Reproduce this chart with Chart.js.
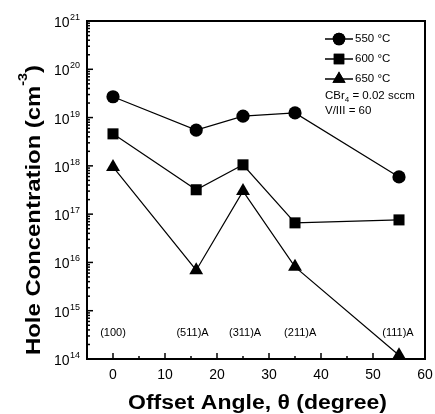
<!DOCTYPE html>
<html>
<head>
<meta charset="utf-8">
<script src="https://cdn.jsdelivr.net/npm/chart.js@4.4.1/dist/chart.umd.min.js"></script>
<style>
html,body{margin:0;padding:0;background:#fff;}
#wrap{width:435px;height:414px;}
</style>
</head>
<body>
<div id="wrap"><canvas id="c" width="435" height="414"></canvas></div>
<script>
const angles = [0, 16, 25, 35, 55];
const s550 = [2.7e19, 5.5e18, 1.07e19, 1.25e19, 5.9e17];
const s600 = [4.6e18, 3.2e17, 1.05e18, 6.6e16, 7.6e16];
const s650 = [9.5e17, 6.9e15, 3.0e17, 8.1e15, 1.2e14];
const seriesNames = ['550 °C', '600 °C', '650 °C'];
const planeLabels = ['(100)', '(511)A', '(311)A', '(211)A', '(111)A'];
const planeAngles = [0, 15.3, 25.4, 36, 54.8];
const xTicks = [0, 10, 20, 30, 40, 50, 60];
const yExponents = [14, 15, 16, 17, 18, 19, 20, 21];
const notes = ['CBr', ' = 0.02 sccm', 'V/III = 60'];
const xTitle = 'Offset Angle, \u03b8 (degree)';
const yTitle = ['Hole Concentration (cm', '-3', ')'];

const FONT = '"Liberation Sans", Arial, Helvetica, sans-serif';
const pts = arr => angles.map((a, i) => ({x: a, y: arr[i]}));

function mkDs(label, data, style, r) {
  return {label, data: pts(data), borderColor: '#000', backgroundColor: '#000',
    borderWidth: 1.2, pointStyle: style, pointRadius: r, pointHoverRadius: r,
    pointBorderWidth: 0, showLine: true, tension: 0, fill: false};
}

const styles = [['circle', 6.6], ['rect', 7.8], ['triangle', 8]];

const deco = {
  id: 'deco',
  afterDraw(chart) {
    const ctx = chart.ctx;
    const xs = chart.scales.x, ys = chart.scales.y;
    const a = chart.chartArea;
    ctx.save();
    ctx.strokeStyle = '#000';
    ctx.fillStyle = '#000';
    // frame
    ctx.lineWidth = 2;
    ctx.strokeRect(a.left, a.top, a.right - a.left, a.bottom - a.top);
    // y ticks
    ctx.lineWidth = 1.5;
    for (let e = 14; e <= 21; e++) {
      for (let m = 1; m <= 9; m++) {
        const v = m * Math.pow(10, e);
        if (v > 1e21 * 1.0001) break;
        const py = ys.getPixelForValue(v);
        const len = m === 1 ? 6 : 3;
        ctx.beginPath(); ctx.moveTo(a.left, py); ctx.lineTo(a.left + len, py); ctx.stroke();
      }
    }
    // x ticks
    for (let v = -5; v <= 60; v += 5) {
      const px = xs.getPixelForValue(v);
      const len = (v % 10 === 0) ? 6 : 3;
      ctx.beginPath(); ctx.moveTo(px, a.bottom); ctx.lineTo(px, a.bottom - len); ctx.stroke();
    }
    // y tick labels
    ctx.textBaseline = 'alphabetic';
    yExponents.forEach(e => {
      const py = ys.getPixelForValue(Math.pow(10, e));
      ctx.font = '9px ' + FONT;
      const sw = ctx.measureText(String(e)).width;
      ctx.textAlign = 'right';
      ctx.fillText(String(e), 80, py - 1);
      ctx.font = '14px ' + FONT;
      ctx.fillText('10', 80 - sw - 0.5, py + 6);
    });
    // x tick labels
    ctx.font = '14px ' + FONT;
    ctx.textAlign = 'center';
    ctx.textBaseline = 'top';
    xTicks.forEach(v => {
      ctx.fillText(String(v), xs.getPixelForValue(v), a.bottom + 9);
    });
    // plane labels
    ctx.font = '11px ' + FONT;
    ctx.textBaseline = 'middle';
    planeLabels.forEach((t, i) => {
      ctx.fillText(t, xs.getPixelForValue(planeAngles[i]), 333);
    });
    // x title (fitted width)
    ctx.save();
    ctx.font = 'bold 20px ' + FONT;
    ctx.textAlign = 'left';
    ctx.textBaseline = 'alphabetic';
    const xw = ctx.measureText(xTitle).width;
    ctx.translate(128, 409);
    ctx.scale(259 / xw, 1);
    ctx.fillText(xTitle, 0, 0);
    ctx.restore();
    // y title (fitted length)
    ctx.save();
    ctx.translate(34, 355);
    ctx.rotate(-Math.PI / 2);
    ctx.font = 'bold 20px ' + FONT;
    const w1 = ctx.measureText(yTitle[0]).width;
    ctx.font = 'bold 12px ' + FONT;
    const w2 = ctx.measureText(yTitle[1]).width;
    ctx.font = 'bold 20px ' + FONT;
    const w3 = ctx.measureText(yTitle[2]).width;
    const tot = w1 + w2 + w3;
    ctx.scale(290 / tot, 1);
    ctx.textAlign = 'left';
    ctx.fillText(yTitle[0], 0, 0);
    ctx.font = 'bold 12px ' + FONT;
    ctx.fillText(yTitle[1], w1, -10);
    ctx.font = 'bold 20px ' + FONT;
    ctx.fillText(yTitle[2], w1 + w2, 0);
    ctx.restore();
    // legend
    const lx = 339, rows = [39, 59, 79];
    chart.data.datasets.forEach((ds, i) => {
      const y = rows[i];
      ctx.lineWidth = 1.5;
      ctx.beginPath(); ctx.moveTo(325, y); ctx.lineTo(353, y); ctx.stroke();
      Chart.helpers.drawPoint(ctx, {pointStyle: ds.pointStyle, radius: ds.pointRadius * 0.95, borderWidth: 0}, lx, y);
      ctx.fill();
      ctx.font = '11.5px ' + FONT;
      ctx.textAlign = 'left';
      ctx.textBaseline = 'middle';
      ctx.fillText(ds.label, 355, y);
    });
    ctx.font = '11.5px ' + FONT;
    ctx.textBaseline = 'middle';
    ctx.fillText(notes[0], 325, 96);
    const cw = ctx.measureText(notes[0]).width;
    ctx.font = '8px ' + FONT;
    ctx.fillText('4', 325 + cw, 100);
    const sw4 = ctx.measureText('4').width;
    ctx.font = '11.5px ' + FONT;
    ctx.fillText(notes[1], 325 + cw + sw4, 96);
    ctx.fillText(notes[2], 325, 111);
    ctx.restore();
  }
};

new Chart(document.getElementById('c'), {
  type: 'scatter',
  data: {
    datasets: [
      mkDs(seriesNames[0], s550, styles[0][0], styles[0][1]),
      mkDs(seriesNames[1], s600, styles[1][0], styles[1][1]),
      mkDs(seriesNames[2], s650, styles[2][0], styles[2][1])
    ]
  },
  options: {
    responsive: false,
    animation: false,
    events: [],
    layout: {padding: {left: 87, right: 10, top: 21, bottom: 55}},
    plugins: {legend: {display: false}, tooltip: {enabled: false}},
    scales: {
      x: {type: 'linear', min: -5, max: 60, display: false},
      y: {type: 'logarithmic', min: 1e14, max: 1e21, display: false}
    }
  },
  plugins: [deco]
});
</script>
</body>
</html>
